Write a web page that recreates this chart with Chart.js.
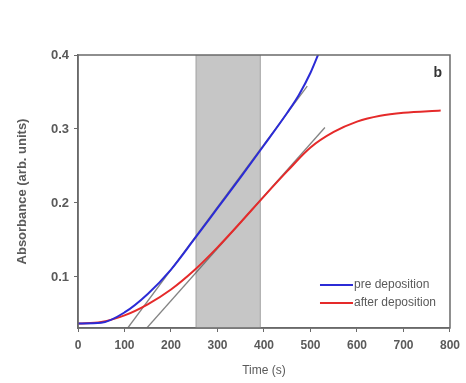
<!DOCTYPE html>
<html>
<head>
<meta charset="utf-8">
<script src="https://cdn.jsdelivr.net/npm/chart.js@4.4.0/dist/chart.umd.min.js"></script>
<style>
  html, body { margin: 0; padding: 0; background: #ffffff; }
  #wrap { width: 466px; height: 383px; }
</style>
</head>
<body>
<div id="wrap"><canvas id="absChart" width="466" height="383"></canvas></div>
<script>
// Datos
const timePre = [0, 50, 100, 150, 200, 250, 300, 350, 400, 450, 475, 500, 520];
const absPre = [0.037, 0.038, 0.052, 0.077, 0.11, 0.151, 0.193, 0.235, 0.278, 0.322, 0.346, 0.376, 0.406];

const timeAfter = [0, 50, 100, 150, 200, 250, 300, 350, 400, 450, 500, 550, 600, 650, 700, 780];
const absAfter = [0.037, 0.039, 0.048, 0.063, 0.083, 0.109, 0.14, 0.174, 0.209, 0.243, 0.275, 0.296, 0.31, 0.318, 0.322, 0.325];

// Rectas tangentes (grises)
const fitPreTime = [107, 493];
const fitPreAbs = [0.031, 0.358];
const fitAfterTime = [148, 531];
const fitAfterAbs = [0.031, 0.302];

// Zona sombreada
const shadeRange = [253, 393];

const xTicks = [0, 100, 200, 300, 400, 500, 600, 700, 800];
const yTicks = [0.1, 0.2, 0.3, 0.4];

const labelPre = "pre deposition";
const labelAfter = "after deposition";
const panelLabel = "b";

const textGrey = "#5a5a5a";
const axisGrey = "#6a6a6a";

function toPoints(xs, ys) {
  return xs.map((x, i) => ({ x: x, y: ys[i] }));
}

// Sombreado, marco, etiqueta y leyenda
const shadePlugin = {
  id: "shade",
  beforeDatasetsDraw(chart) {
    const { ctx, chartArea, scales } = chart;
    const x0 = scales.x.getPixelForValue(shadeRange[0]);
    const x1 = scales.x.getPixelForValue(shadeRange[1]);
    ctx.save();
    ctx.fillStyle = "#c6c6c6";
    ctx.fillRect(x0, chartArea.top, x1 - x0, chartArea.bottom - chartArea.top);
    ctx.strokeStyle = "#a8a8a8";
    ctx.lineWidth = 1;
    ctx.beginPath();
    ctx.moveTo(x0 + 0.5, chartArea.top);
    ctx.lineTo(x0 + 0.5, chartArea.bottom);
    ctx.moveTo(x1 - 0.5, chartArea.top);
    ctx.lineTo(x1 - 0.5, chartArea.bottom);
    ctx.stroke();
    ctx.restore();
  },
  afterDraw(chart) {
    const { ctx, chartArea } = chart;
    ctx.save();
    ctx.strokeStyle = axisGrey;
    ctx.lineWidth = 1.5;
    ctx.strokeRect(chartArea.left, chartArea.top, chartArea.right - chartArea.left, chartArea.bottom - chartArea.top);
    // etiqueta del panel
    ctx.fillStyle = "#333333";
    ctx.font = "bold 14px 'Liberation Sans', Arial, sans-serif";
    ctx.textAlign = "right";
    ctx.textBaseline = "middle";
    ctx.fillText(panelLabel, chartArea.right - 8, chartArea.top + 18);
    // leyenda
    const items = chart.data.datasets.filter((d) => d.inLegend);
    ctx.font = "12px 'Liberation Sans', Arial, sans-serif";
    ctx.textAlign = "left";
    items.forEach((d, i) => {
      const y = chartArea.bottom - 43 + i * 18;
      const xl = chartArea.right - 130;
      ctx.strokeStyle = d.borderColor;
      ctx.lineWidth = 2;
      ctx.beginPath();
      ctx.moveTo(xl, y);
      ctx.lineTo(xl + 33, y);
      ctx.stroke();
      ctx.fillStyle = textGrey;
      ctx.fillText(d.label, xl + 34, y);
    });
    ctx.restore();
  },
};

const ctx = document.getElementById("absChart").getContext("2d");
const absChart = new Chart(ctx, {
  type: "scatter",
  data: {
    datasets: [
      {
        label: labelPre,
        inLegend: true,
        data: toPoints(timePre, absPre),
        showLine: true,
        borderColor: "#2b2bd6",
        borderWidth: 2,
        pointRadius: 0,
        cubicInterpolationMode: "monotone",
      },
      {
        label: labelAfter,
        inLegend: true,
        data: toPoints(timeAfter, absAfter),
        showLine: true,
        borderColor: "#e52a2a",
        borderWidth: 2,
        pointRadius: 0,
        cubicInterpolationMode: "monotone",
      },
      {
        label: "fit pre",
        data: toPoints(fitPreTime, fitPreAbs),
        showLine: true,
        borderColor: "rgba(90, 90, 90, 0.75)",
        borderWidth: 1.3,
        pointRadius: 0,
      },
      {
        label: "fit after",
        data: toPoints(fitAfterTime, fitAfterAbs),
        showLine: true,
        borderColor: "rgba(90, 90, 90, 0.75)",
        borderWidth: 1.3,
        pointRadius: 0,
      },
    ],
  },
  options: {
    responsive: false,
    animation: false,
    layout: {
      padding: { left: 0, right: 16, top: 55, bottom: 0 },
    },
    plugins: {
      legend: { display: false },
      tooltip: { enabled: false },
    },
    scales: {
      x: {
        type: "linear",
        min: 0,
        max: 800,
        afterFit(scale) {
          scale.height = 55;
        },
        afterBuildTicks(scale) {
          scale.ticks = xTicks.map((v) => ({ value: v }));
        },
        grid: {
          drawOnChartArea: false,
          tickLength: 4,
          color: axisGrey,
        },
        border: { color: axisGrey, width: 1.5 },
        ticks: {
          color: textGrey,
          padding: 6,
          maxRotation: 0,
          font: { family: "'Liberation Sans', Arial, sans-serif", size: 12, weight: "bold" },
        },
        title: {
          display: true,
          text: "Time (s)",
          color: textGrey,
          padding: { bottom: 5 },
          font: { family: "'Liberation Sans', Arial, sans-serif", size: 12 },
        },
      },
      y: {
        type: "linear",
        min: 0.031,
        max: 0.4,
        afterFit(scale) {
          scale.width = 78;
        },
        afterBuildTicks(scale) {
          scale.ticks = yTicks.map((v) => ({ value: v }));
        },
        grid: {
          drawOnChartArea: false,
          tickLength: 4,
          color: axisGrey,
        },
        border: { color: axisGrey, width: 1.5 },
        ticks: {
          color: textGrey,
          padding: 5,
          font: { family: "'Liberation Sans', Arial, sans-serif", size: 13, weight: "bold" },
          callback: function (value) {
            return value.toFixed(1);
          },
        },
        title: {
          display: true,
          text: "Absorbance (arb. units)",
          color: textGrey,
          padding: { top: 15 },
          font: { family: "'Liberation Sans', Arial, sans-serif", size: 13, weight: "bold" },
        },
      },
    },
  },
  plugins: [shadePlugin],
});
</script>
</body>
</html>
